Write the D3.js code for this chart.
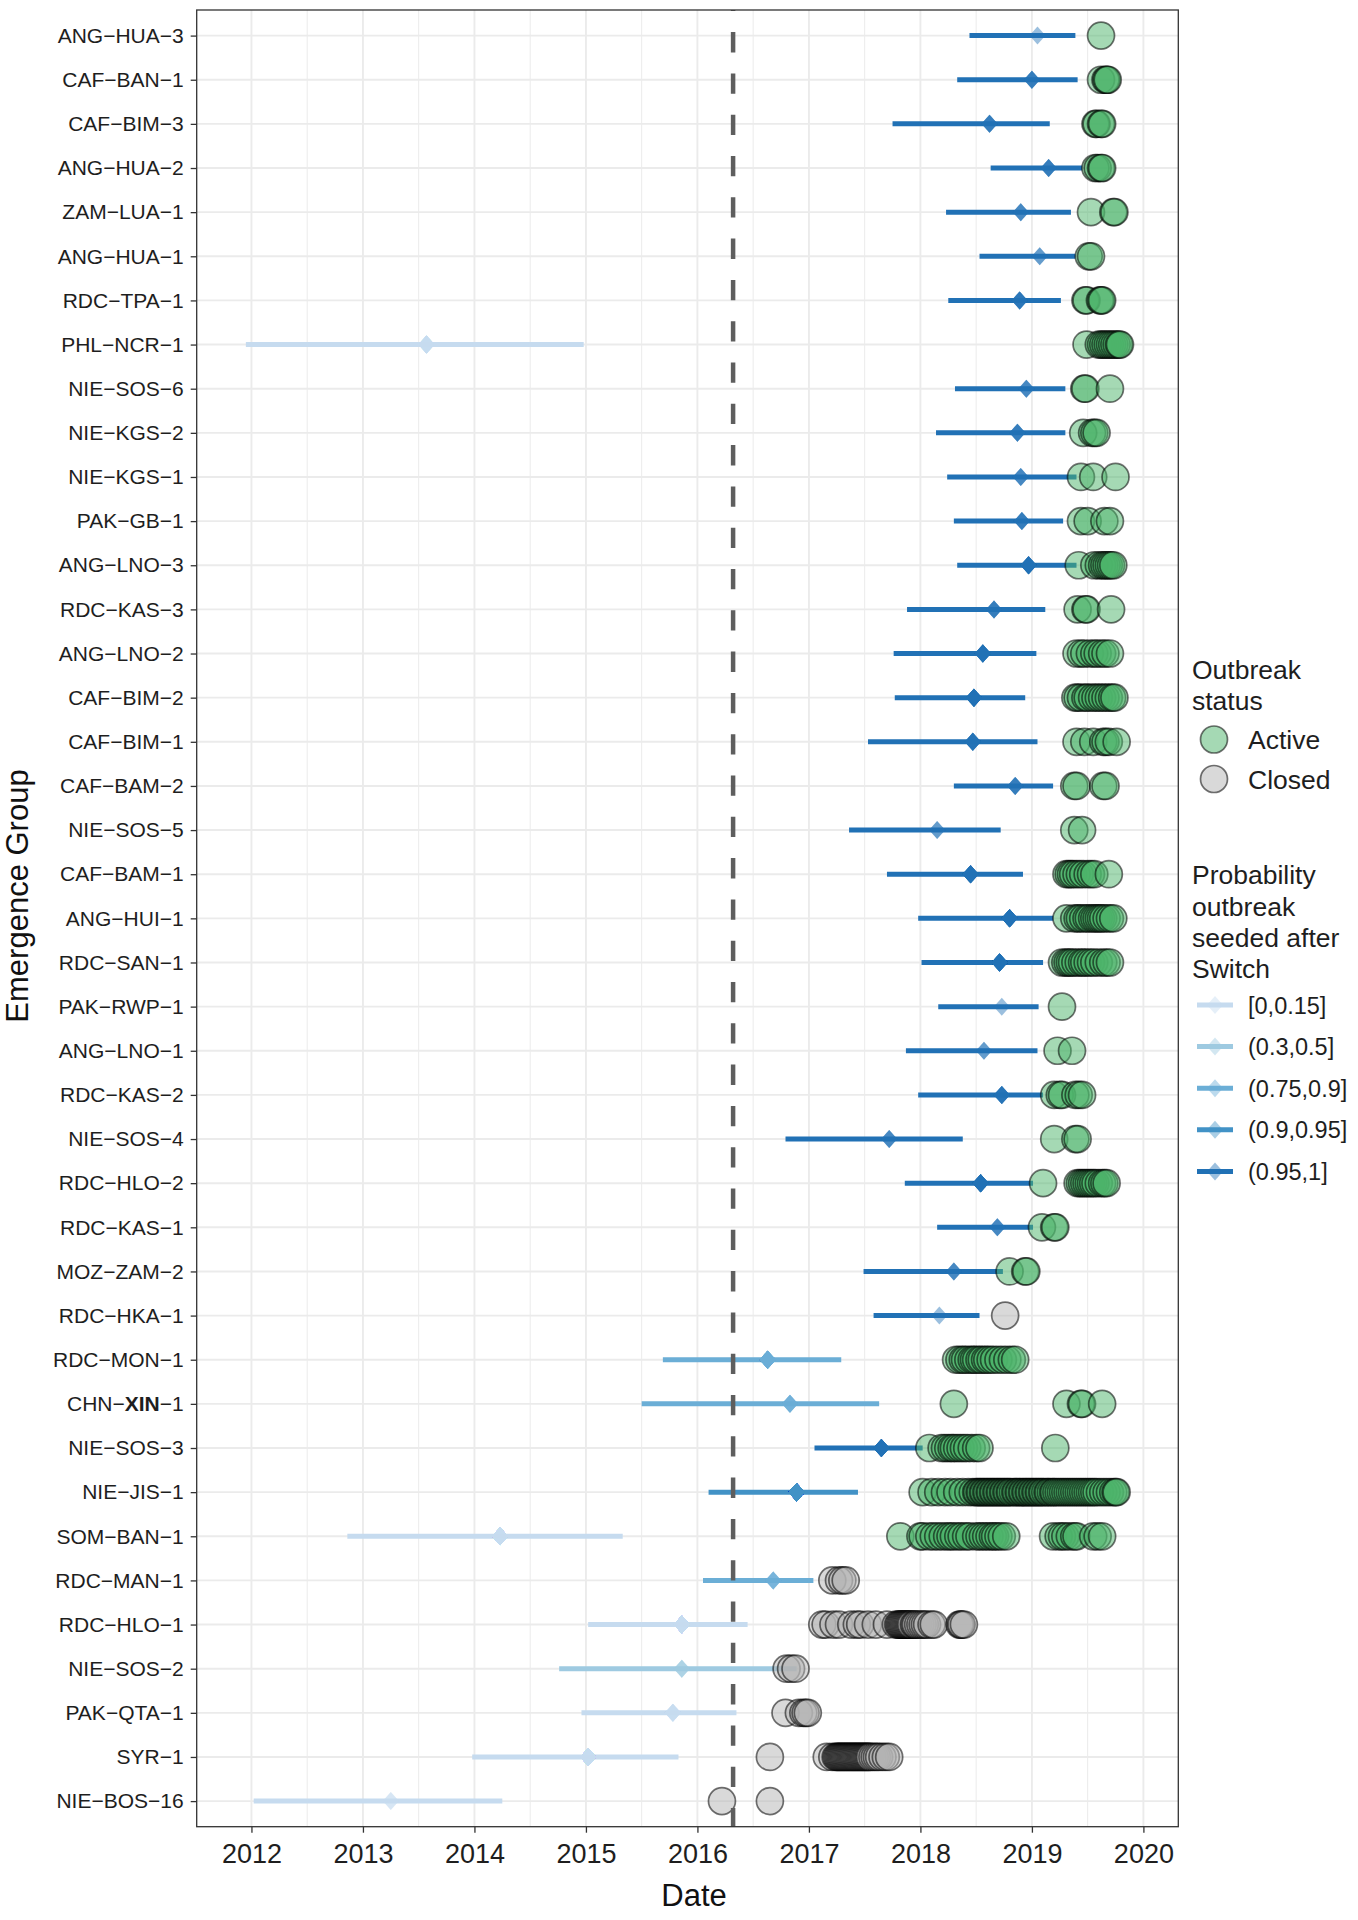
<!DOCTYPE html>
<html><head><meta charset="utf-8">
<script src="https://cdn.jsdelivr.net/npm/d3@7"></script>
<style>
body{margin:0;background:#fff;}
svg{display:block;font-family:"Liberation Sans",Arial,Helvetica,sans-serif;}
</style></head><body>
<svg id="chart" width="1358" height="1920"></svg>
<script>
// ---------------- DATA ----------------
const groups = ["ANG-HUA-3","CAF-BAN-1","CAF-BIM-3","ANG-HUA-2","ZAM-LUA-1","ANG-HUA-1","RDC-TPA-1","PHL-NCR-1","NIE-SOS-6","NIE-KGS-2","NIE-KGS-1","PAK-GB-1","ANG-LNO-3","RDC-KAS-3","ANG-LNO-2","CAF-BIM-2","CAF-BIM-1","CAF-BAM-2","NIE-SOS-5","CAF-BAM-1","ANG-HUI-1","RDC-SAN-1","PAK-RWP-1","ANG-LNO-1","RDC-KAS-2","NIE-SOS-4","RDC-HLO-2","RDC-KAS-1","MOZ-ZAM-2","RDC-HKA-1","RDC-MON-1","CHN-XIN-1","NIE-SOS-3","NIE-JIS-1","SOM-BAN-1","RDC-MAN-1","RDC-HLO-1","NIE-SOS-2","PAK-QTA-1","SYR-1","NIE-BOS-16"];

// estimated seeding date (decimal years): lower bound, point estimate, upper bound
const seedLow  = [2018.44,2018.33,2017.75,2018.63,2018.23,2018.53,2018.25,2011.95,2018.31,2018.14,2018.24,2018.30,2018.33,2017.88,2017.76,2017.77,2017.53,2018.30,2017.36,2017.70,2017.98,2018.01,2018.16,2017.87,2017.98,2016.79,2017.86,2018.15,2017.49,2017.58,2015.69,2015.50,2017.05,2016.10,2012.86,2016.05,2015.02,2014.76,2014.96,2013.98,2012.02];
const seedEst  = [2019.05,2019.00,2018.62,2019.15,2018.90,2019.07,2018.89,2013.57,2018.95,2018.87,2018.90,2018.91,2018.97,2018.66,2018.56,2018.48,2018.47,2018.85,2018.15,2018.45,2018.80,2018.71,2018.73,2018.57,2018.73,2017.72,2018.54,2018.69,2018.30,2018.17,2016.63,2016.83,2017.65,2016.89,2014.23,2016.68,2015.86,2015.86,2015.78,2015.02,2013.25];
const seedHigh = [2019.39,2019.41,2019.16,2019.45,2019.35,2019.39,2019.26,2014.98,2019.30,2019.30,2019.40,2019.28,2019.40,2019.12,2019.04,2018.94,2019.05,2019.19,2018.72,2018.92,2019.19,2019.10,2019.06,2019.05,2019.10,2018.38,2019.01,2019.01,2018.74,2018.53,2017.29,2017.63,2018.02,2017.44,2015.33,2017.04,2016.45,2016.89,2016.35,2015.83,2014.25];

const probLevels = ["[0,0.15]","(0.3,0.5]","(0.75,0.9]","(0.9,0.95]","(0.95,1]"];
const probColors = ["#c6dbef","#9ecae1","#6baed6","#4292c6","#2171b5"];
// index into probLevels for each group
const probBin = [4,4,4,4,4,4,4, 0, 4,4,4,4,4,4,4,4,4,4,4,4,4,4,4,4,4,4,4,4,4,4, 2,2,4,3,0,2,0,1,0,0,0];

const statusLevels = ["Active","Closed"];
const status = ["Active","Active","Active","Active","Active","Active","Active","Active","Active","Active","Active","Active","Active","Active","Active","Active","Active","Active","Active","Active","Active","Active","Active","Active","Active","Active","Active","Active","Active","Closed","Active","Active","Active","Active","Active","Closed","Closed","Closed","Closed","Closed","Closed"];

// detection dates (decimal years) for each group
const detections = [
  [2019.62],
  [2019.62,2019.66,2019.67,2019.68],
  [2019.57,2019.58,2019.62,2019.63],
  [2019.57,2019.59,2019.62,2019.63],
  [2019.53,2019.73,2019.74],
  [2019.51,2019.53],
  [2019.48,2019.49,2019.61,2019.62,2019.63],
  [2019.49,2019.6,2019.62,2019.64,2019.66,2019.68,2019.7,2019.72,2019.74,2019.76,2019.78,2019.79],
  [2019.47,2019.48,2019.7],
  [2019.46,2019.54,2019.56,2019.58],
  [2019.44,2019.55,2019.75],
  [2019.44,2019.5,2019.65,2019.7],
  [2019.42,2019.56,2019.6,2019.63,2019.65,2019.67,2019.69,2019.71,2019.73],
  [2019.41,2019.48,2019.49,2019.71],
  [2019.4,2019.44,2019.47,2019.52,2019.56,2019.59,2019.63,2019.66,2019.7],
  [2019.39,2019.41,2019.44,2019.48,2019.5,2019.54,2019.57,2019.6,2019.63,2019.66,2019.69,2019.72,2019.74],
  [2019.4,2019.47,2019.55,2019.64,2019.66,2019.69,2019.76],
  [2019.38,2019.4,2019.64,2019.66],
  [2019.38,2019.45],
  [2019.31,2019.33,2019.35,2019.37,2019.4,2019.43,2019.46,2019.5,2019.53,2019.56,2019.69],
  [2019.31,2019.38,2019.41,2019.43,2019.46,2019.49,2019.51,2019.54,2019.56,2019.58,2019.6,2019.62,2019.64,2019.67,2019.7,2019.73],
  [2019.27,2019.3,2019.32,2019.34,2019.36,2019.39,2019.42,2019.45,2019.47,2019.5,2019.53,2019.56,2019.6,2019.64,2019.67,2019.7],
  [2019.27],
  [2019.23,2019.36],
  [2019.2,2019.25,2019.27,2019.39,2019.42,2019.45],
  [2019.2,2019.39,2019.41],
  [2019.1,2019.41,2019.43,2019.45,2019.47,2019.49,2019.51,2019.53,2019.55,2019.57,2019.6,2019.63,2019.65,2019.67],
  [2019.09,2019.2,2019.21],
  [2018.8,2018.94,2018.95],
  [2018.76],
  [2018.32,2018.35,2018.38,2018.4,2018.43,2018.46,2018.48,2018.5,2018.53,2018.55,2018.58,2018.6,2018.63,2018.66,2018.7,2018.74,2018.78,2018.82,2018.85],
  [2018.3,2019.31,2019.44,2019.45,2019.63],
  [2018.08,2018.19,2018.22,2018.25,2018.28,2018.3,2018.33,2018.36,2018.39,2018.42,2018.46,2018.5,2018.53,2019.21],
  [2018.02,2018.1,2018.16,2018.22,2018.27,2018.33,2018.38,2018.43,2018.47,2018.5,2018.51,2018.53,2018.54,2018.56,2018.57,2018.59,2018.6,2018.62,2018.63,2018.65,2018.66,2018.68,2018.69,2018.71,2018.72,2018.74,2018.75,2018.77,2018.78,2018.8,2018.81,2018.83,2018.85,2018.86,2018.88,2018.89,2018.91,2018.92,2018.94,2018.95,2018.97,2018.98,2019.0,2019.01,2019.03,2019.04,2019.06,2019.07,2019.09,2019.1,2019.12,2019.14,2019.15,2019.17,2019.19,2019.2,2019.22,2019.24,2019.26,2019.28,2019.3,2019.32,2019.34,2019.36,2019.38,2019.4,2019.42,2019.44,2019.46,2019.48,2019.5,2019.52,2019.54,2019.56,2019.58,2019.61,2019.64,2019.67,2019.7,2019.73,2019.75,2019.76],
  [2017.82,2018.0,2018.02,2018.08,2018.12,2018.16,2018.2,2018.24,2018.27,2018.3,2018.34,2018.37,2018.41,2018.44,2018.5,2018.53,2018.56,2018.59,2018.62,2018.65,2018.67,2018.7,2018.73,2018.77,2019.19,2019.24,2019.27,2019.3,2019.34,2019.38,2019.4,2019.55,2019.59,2019.63],
  [2017.21,2017.27,2017.3,2017.33],
  [2017.12,2017.15,2017.22,2017.27,2017.38,2017.43,2017.46,2017.53,2017.6,2017.7,2017.78,2017.8,2017.81,2017.82,2017.83,2017.84,2017.85,2017.86,2017.87,2017.88,2017.89,2017.9,2017.91,2017.92,2017.94,2017.95,2017.96,2017.98,2018.0,2018.02,2018.04,2018.06,2018.1,2018.12,2018.35,2018.36,2018.37,2018.39],
  [2016.8,2016.84,2016.88],
  [2016.79,2016.91,2016.95,2016.97,2016.99],
  [2016.65,2017.16,2017.21,2017.24,2017.25,2017.26,2017.27,2017.28,2017.29,2017.3,2017.31,2017.32,2017.33,2017.34,2017.35,2017.36,2017.37,2017.38,2017.39,2017.4,2017.41,2017.42,2017.43,2017.44,2017.45,2017.46,2017.47,2017.48,2017.49,2017.5,2017.51,2017.52,2017.53,2017.54,2017.55,2017.57,2017.59,2017.61,2017.63,2017.66,2017.69,2017.72],
  [2016.22,2016.65]
];

const xTicks = [2012,2013,2014,2015,2016,2017,2018,2019,2020];
const switchDate = 2016.32;
const probTitle = ["Probability","outbreak","seeded after","Switch"];
const statusTitle = ["Outbreak","status"];

// ---------------- DRAW ----------------
const svg = d3.select("#chart");
const P = {left:196.7, right:1178.3, top:10, bottom:1826.7};
const x = d3.scaleLinear().domain([2011.509, 2020.313]).range([P.left, P.right]);
const y = d3.scalePoint().domain(groups).range([P.top, P.bottom]).padding(0.58);
const lineColor = d3.scaleOrdinal().domain(probLevels).range(probColors);
const fillColor = d3.scaleOrdinal().domain(statusLevels).range(["#4cb46a","#b3b3b3"]);
const minus = s => s.replace(/-/g, "\u2212");
const diamond = "M0,-9L8,0L0,9L-8,0Z";

svg.append("rect").attr("width",1358).attr("height",1920).attr("fill","#fff");

const rows = groups.map((g,i)=>({g, lo:seedLow[i], est:seedEst[i], hi:seedHigh[i],
  prob:probLevels[probBin[i]], status:status[i], dets:detections[i]}));

// grid
const grid = svg.append("g");
const xMinor = d3.pairs(xTicks).map(([a,b])=>(a+b)/2);
grid.selectAll("line.minor").data(xMinor).join("line")
  .attr("x1",d=>x(d)).attr("x2",d=>x(d)).attr("y1",P.top).attr("y2",P.bottom)
  .attr("stroke","#ebebeb").attr("stroke-width",1.0);
grid.selectAll("line.majx").data(xTicks).join("line")
  .attr("x1",d=>x(d)).attr("x2",d=>x(d)).attr("y1",P.top).attr("y2",P.bottom)
  .attr("stroke","#ebebeb").attr("stroke-width",1.9);
grid.selectAll("line.majy").data(groups).join("line")
  .attr("x1",P.left).attr("x2",P.right).attr("y1",d=>y(d)).attr("y2",d=>y(d))
  .attr("stroke","#ebebeb").attr("stroke-width",1.9);

// seeding intervals
svg.append("g").selectAll("line").data(rows).join("line")
  .attr("x1",d=>x(d.lo)).attr("x2",d=>x(d.hi)).attr("y1",d=>y(d.g)).attr("y2",d=>y(d.g))
  .attr("stroke",d=>lineColor(d.prob)).attr("stroke-width",5);

// point estimates (one per detection, semi-transparent)
const dm = [];
rows.forEach(r=>r.dets.forEach(()=>dm.push(r)));
svg.append("g").selectAll("path").data(dm).join("path")
  .attr("d",diamond)
  .attr("transform",d=>`translate(${x(d.est)},${y(d.g)})`)
  .attr("fill",d=>lineColor(d.prob)).attr("fill-opacity",0.45);

// detections
const pts = [];
rows.forEach(r=>r.dets.forEach(t=>pts.push({g:r.g, t, status:r.status})));
svg.append("g").selectAll("circle").data(pts).join("circle")
  .attr("cx",d=>x(d.t)).attr("cy",d=>y(d.g)).attr("r",13.5)
  .attr("fill",d=>fillColor(d.status)).attr("fill-opacity",0.5)
  .attr("stroke","#000").attr("stroke-opacity",0.55).attr("stroke-width",1.7);

// switch line
svg.append("line")
  .attr("x1",x(switchDate)).attr("x2",x(switchDate)).attr("y1",P.top).attr("y2",P.bottom)
  .attr("stroke","#5e5e5e").attr("stroke-width",4.5)
  .attr("stroke-dasharray","20.3 21").attr("stroke-dashoffset",19.2);

// panel border
svg.append("rect").attr("x",P.left).attr("y",P.top)
  .attr("width",P.right-P.left).attr("height",P.bottom-P.top)
  .attr("fill","none").attr("stroke","#333").attr("stroke-width",1.3);

// axes
const xa = svg.append("g").attr("transform",`translate(0,${P.bottom})`)
  .call(d3.axisBottom(x).tickValues(xTicks).tickFormat(d3.format("d")).tickSize(6).tickPadding(11.6));
const ya = svg.append("g").attr("transform",`translate(${P.left},0)`)
  .call(d3.axisLeft(y).tickSize(6).tickPadding(7).tickFormat(minus));
[xa,ya].forEach(a=>{
  a.select(".domain").remove();
  a.selectAll(".tick line").attr("stroke","#333").attr("stroke-width",1.3);
  a.selectAll(".tick text").attr("fill","#1e1e1e").attr("font-family","'Liberation Sans',Arial,sans-serif");
});
xa.selectAll(".tick text").attr("font-size",27);
ya.selectAll(".tick text").attr("font-size",21);
ya.selectAll(".tick text").filter(d=>d==="CHN-XIN-1").each(function(d){
  const t = d3.select(this); t.text(null);
  const parts = d.split("-");
  t.append("tspan").text(parts[0]+"\u2212");
  t.append("tspan").attr("font-weight","bold").text(parts[1]);
  t.append("tspan").text("\u2212"+parts[2]);
});

// axis titles
svg.append("text").attr("x",694).attr("y",1906).attr("text-anchor","middle")
  .attr("font-size",31).attr("fill","#111").text("Date");
svg.append("text").attr("transform","translate(28,896) rotate(-90)").attr("text-anchor","middle")
  .attr("font-size",31).attr("fill","#111").text("Emergence Group");

// legend
const lg = svg.append("g").attr("font-size",26.5).attr("fill","#1e1e1e");
statusTitle.forEach((s,i)=>lg.append("text").attr("x",1192).attr("y",679+i*31).text(s));
statusLevels.forEach((s,i)=>{
  const cy = 739.5 + i*39.5;
  lg.append("circle").attr("cx",1214).attr("cy",cy).attr("r",13.5)
    .attr("fill",fillColor(s)).attr("fill-opacity",0.5)
    .attr("stroke","#000").attr("stroke-opacity",0.55).attr("stroke-width",1.7);
  lg.append("text").attr("x",1248).attr("y",cy+9.5).text(s);
});
probTitle.forEach((s,i)=>lg.append("text").attr("x",1192).attr("y",884.3+i*31.2).text(s));
probLevels.forEach((p,i)=>{
  const cy = 1005 + i*41.6;
  lg.append("line").attr("x1",1197).attr("x2",1233).attr("y1",cy).attr("y2",cy)
    .attr("stroke",lineColor(p)).attr("stroke-width",5);
  lg.append("path").attr("d",diamond).attr("transform",`translate(1215,${cy})`)
    .attr("fill",lineColor(p)).attr("fill-opacity",0.45);
  lg.append("text").attr("x",1248).attr("y",cy+8.5).attr("font-size",23.5).text(p);
});
</script>
</body></html>
